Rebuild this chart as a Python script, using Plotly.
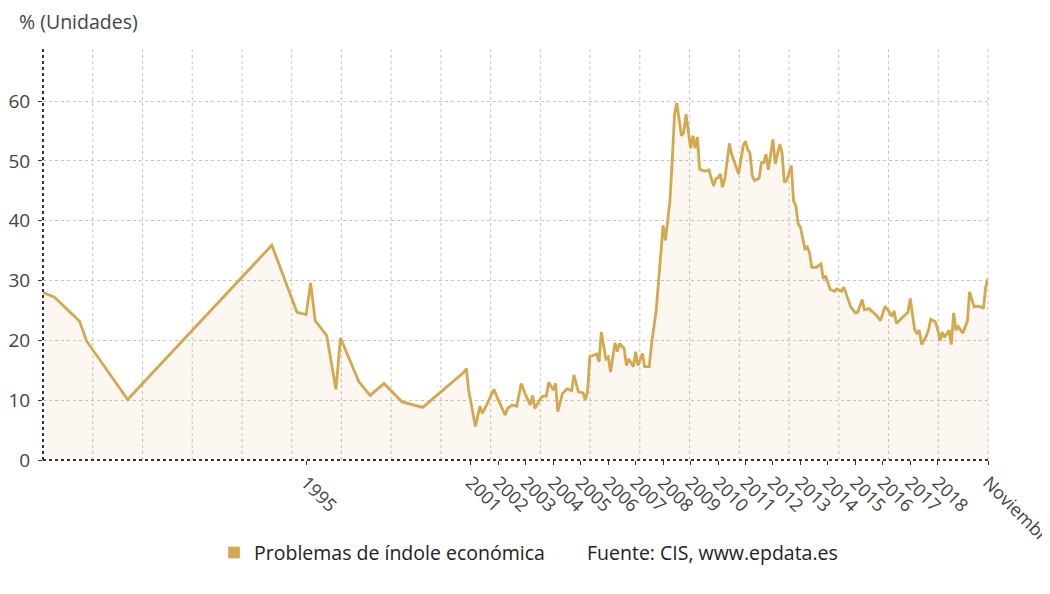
import plotly.graph_objects as go

fechas = [
    "1985-06", "1985-11", "1986-10", "1987-01", "1988-07", "1993-10", "1994-09", "1995-01",
    "1995-03", "1995-05", "1995-10", "1996-02", "1996-04", "1996-12", "1997-05", "1997-11",
    "1998-07", "1999-04", "2000-10", "2000-11", "2000-12", "2001-02", "2001-03", "2001-05",
    "2001-06", "2001-08", "2001-11", "2002-01", "2002-04", "2002-05", "2002-07", "2002-09",
    "2002-11", "2003-01", "2003-03", "2003-04", "2003-05", "2003-08", "2003-10", "2003-11",
    "2004-01", "2004-02", "2004-03", "2004-05", "2004-07", "2004-09", "2004-10", "2004-12",
    "2005-02", "2005-03", "2005-04", "2005-05", "2005-08", "2005-09", "2005-10", "2005-12",
    "2006-01", "2006-02", "2006-04", "2006-05", "2006-06", "2006-08", "2006-09", "2006-10",
    "2006-12", "2007-01", "2007-02", "2007-04", "2007-05", "2007-07", "2007-08", "2007-10",
    "2008-01", "2008-02", "2008-03", "2008-04", "2008-05", "2008-06", "2008-07", "2008-09",
    "2008-10", "2008-11", "2009-01", "2009-02", "2009-03", "2009-04", "2009-05", "2009-07",
    "2009-09", "2009-11", "2009-12", "2010-01", "2010-02", "2010-03", "2010-04", "2010-06",
    "2010-07", "2010-09", "2010-10", "2010-12", "2011-01", "2011-02", "2011-03", "2011-04",
    "2011-05", "2011-07", "2011-08", "2011-09", "2011-10", "2011-11", "2012-01", "2012-02",
    "2012-04", "2012-05", "2012-06", "2012-07", "2012-09", "2012-10", "2012-11", "2012-12",
    "2013-01", "2013-03", "2013-04", "2013-05", "2013-06", "2013-08", "2013-10", "2013-11",
    "2013-12", "2014-02", "2014-04", "2014-05", "2014-07", "2014-08", "2014-10", "2014-11",
    "2015-01", "2015-02", "2015-04", "2015-05", "2015-07", "2015-08", "2015-10", "2015-12",
    "2016-01", "2016-02", "2016-04", "2016-05", "2016-06", "2016-07", "2016-09", "2016-10",
    "2016-12", "2017-01", "2017-03", "2017-04", "2017-05", "2017-06", "2017-08", "2017-09",
    "2017-10", "2017-12", "2018-01", "2018-02", "2018-03", "2018-04", "2018-06", "2018-07",
    "2018-08", "2018-09", "2018-10", "2018-12", "2019-02", "2019-03", "2019-05", "2019-06",
    "2019-08", "2019-09", "2019-10", "2019-11",
]

valores = [
    28.0, 27.2, 23.2, 19.9, 10.1, 35.9, 24.7, 24.3,
    29.6, 23.3, 20.8, 11.8, 20.4, 13.1, 10.8, 12.8,
    9.7, 8.8, 14.7, 15.3, 11.7, 7.8, 5.6, 9.0,
    7.8, 9.3, 11.8, 10.0, 7.5, 8.6, 9.2, 9.0,
    12.8, 10.8, 9.2, 10.8, 8.6, 10.6, 10.7, 13.0,
    11.7, 12.8, 8.1, 11.1, 11.9, 11.6, 14.2, 11.4,
    11.2, 10.0, 11.4, 17.3, 17.7, 16.4, 21.4, 16.9,
    17.2, 14.7, 19.6, 18.1, 19.5, 18.6, 15.8, 16.9,
    15.6, 18.1, 15.8, 17.8, 15.6, 15.6, 19.5, 25.0,
    39.2, 36.7, 39.5, 43.3, 50.0, 57.8, 59.7, 54.2,
    54.7, 57.8, 52.1, 54.2, 52.1, 54.0, 48.6, 48.3,
    48.5, 45.8, 47.0, 47.2, 47.8, 45.6, 47.0, 52.9,
    51.1, 48.6, 47.8, 52.5, 53.3, 51.8, 51.4, 47.5,
    46.7, 47.1, 49.7, 49.7, 51.1, 48.5, 53.6, 49.5,
    52.8, 51.4, 46.4, 46.7, 49.2, 43.3, 42.5, 39.5,
    38.9, 35.3, 35.6, 34.7, 32.2, 32.2, 32.8, 30.3,
    30.8, 28.5, 28.2, 28.6, 28.2, 28.9, 26.7, 25.6,
    24.6, 24.7, 26.8, 25.1, 25.3, 25.0, 24.3, 23.3,
    24.5, 25.7, 24.7, 24.0, 24.9, 22.8, 23.6, 24.0,
    24.7, 27.0, 21.7, 21.2, 21.7, 19.3, 20.7, 21.8,
    23.5, 23.1, 21.8, 19.9, 21.4, 20.5, 21.7, 19.3,
    24.6, 21.7, 22.3, 21.2, 23.3, 28.1, 25.6, 25.7,
    25.6, 25.3, 28.9, 30.3,
]

etiquetas_x = ["1995"] + [str(a) for a in range(2001, 2019)] + ["Noviembre"]
posiciones_x = ["1995-01-01"] + [f"{a}-01-01" for a in range(2001, 2019)] + ["2019-11-01"]

serie = "Problemas de índole económica"
fuente = "Fuente: CIS, www.epdata.es"
titulo_y = "% (Unidades)"

color_linea = "#d4a84e"
font_family = "Open Sans, Noto Sans, sans-serif"

fig = go.Figure()
fig.add_trace(go.Scatter(
    x=fechas, y=valores, mode="lines",
    line=dict(color=color_linea, width=2.8),
    fill="tozeroy", fillcolor="rgba(222,178,100,0.09)",
    showlegend=False, hoverinfo="x+y",
))
# legend entry (square swatch)
fig.add_trace(go.Bar(x=[None], y=[None], name=serie, marker_color=color_linea, showlegend=True))

shapes = []
# vertical dotted gridlines, evenly spaced
for i in range(1, 20):
    shapes.append(dict(type="line", xref="paper", yref="paper", x0=i / 19, x1=i / 19, y0=0, y1=1,
                       line=dict(color="#c4c4c4", width=1, dash="dot"), layer="below"))
# dotted axis lines
shapes.append(dict(type="line", xref="paper", yref="paper", x0=0, x1=0, y0=0, y1=1,
                   line=dict(color="#333333", width=2, dash="dot"), layer="above"))
shapes.append(dict(type="line", xref="paper", yref="paper", x0=0, x1=1, y0=0, y1=0,
                   line=dict(color="#333333", width=2, dash="dot"), layer="above"))

fig.update_layout(
    width=1050, height=594,
    margin=dict(l=35, r=70, t=38, b=142, autoexpand=False),
    paper_bgcolor="white", plot_bgcolor="white",
    font=dict(family=font_family, size=19, color="#444444"),
    shapes=shapes,
    barmode="overlay",
    xaxis=dict(
        type="date", automargin=False,
        range=["1985-06-01", "2019-11-01"],
        tickmode="array", tickvals=posiciones_x, ticktext=etiquetas_x,
        tickangle=45, ticks="outside", ticklen=4, tickcolor="#333333",
        ticklabeloverflow="allow",
        showgrid=False, zeroline=False, showline=False,
        tickfont=dict(size=18, color="#444444"),
    ),
    yaxis=dict(
        range=[0, 69.2], tickvals=[0, 10, 20, 30, 40, 50, 60], automargin=False,
        ticks="outside", ticklen=4, tickcolor="#333333", ticklabelstandoff=4,
        showgrid=True, gridcolor="#c4c4c4", griddash="dot", gridwidth=1,
        zeroline=False, showline=False,
        tickfont=dict(size=19, color="#444444"),
    ),
    legend=dict(orientation="h", x=0.181, y=-0.224, xanchor="left", yanchor="middle",
                font=dict(size=19.5, color="#222222"), itemwidth=30),
    annotations=[
        dict(text=titulo_y, xref="paper", yref="paper", x=-0.027, y=1.06,
             xanchor="left", yanchor="middle", showarrow=False,
             font=dict(size=19.5, color="#444444")),
        dict(text=fuente, xref="paper", yref="paper", x=0.5735, y=-0.224,
             xanchor="left", yanchor="middle", showarrow=False,
             font=dict(size=19.5, color="#222222")),
    ],
)

fig.write_html("out.html")
